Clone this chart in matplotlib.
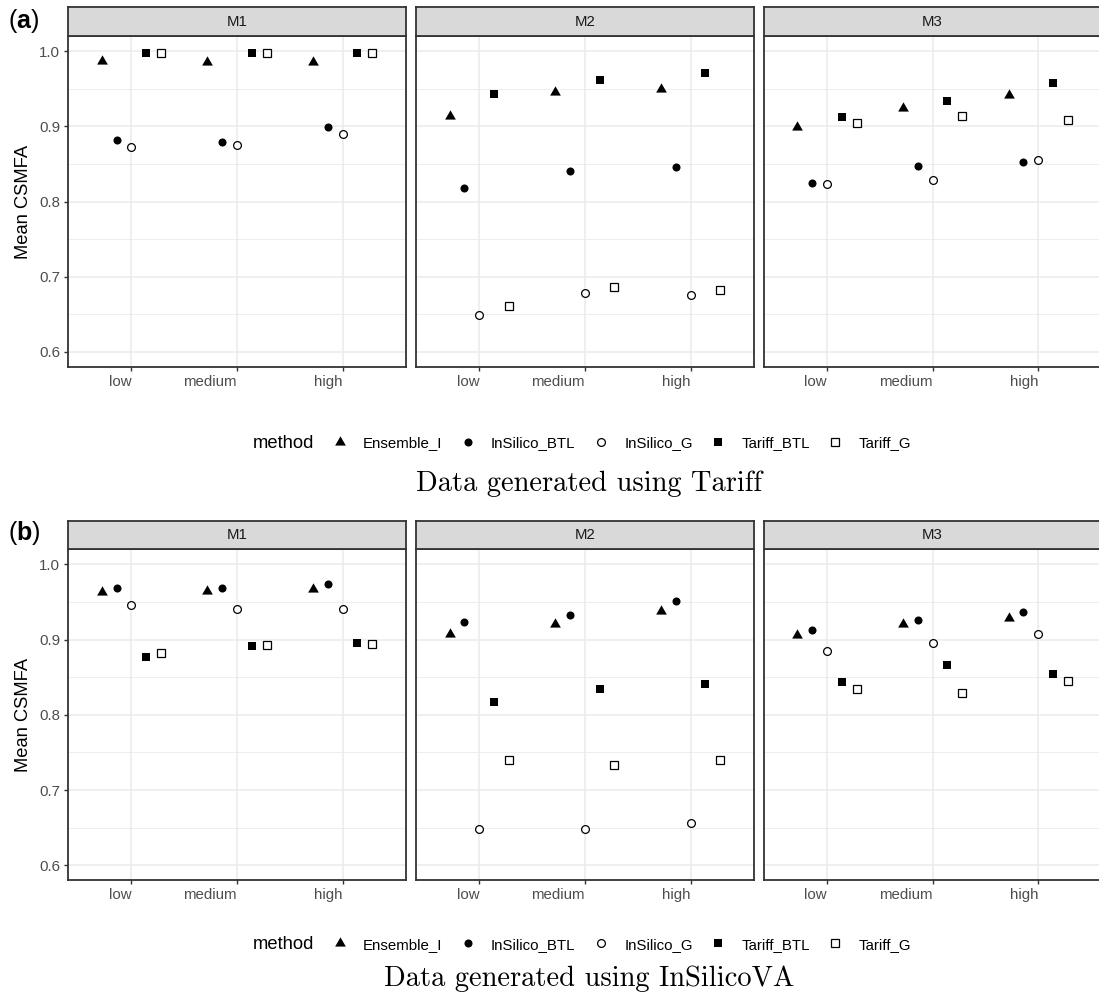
import numpy as np
import matplotlib
matplotlib.use("Agg")
import matplotlib.pyplot as plt
from matplotlib.lines import Line2D

plt.rcParams['font.family'] = ['Liberation Sans', 'DejaVu Sans']
plt.rcParams['mathtext.fontset'] = 'custom'
plt.rcParams['mathtext.rm'] = 'Liberation Sans'
plt.rcParams['mathtext.bf'] = 'Liberation Sans:bold'

# categories
models = ['M1', 'M2', 'M3']
levels = ['low', 'medium', 'high']
methods = ['Ensemble_I', 'InSilico_BTL', 'InSilico_G', 'Tariff_BTL', 'Tariff_G']

# mean CSMFA, rows = M1, M2, M3 ; columns = low, medium, high
# (a) data generated using Tariff
tariff_ensemble = [[0.987, 0.986, 0.986], [0.914, 0.945, 0.950], [0.899, 0.924, 0.942]]
tariff_insilico_btl = [[0.882, 0.879, 0.899], [0.818, 0.840, 0.846], [0.825, 0.847, 0.852]]
tariff_insilico_g = [[0.872, 0.875, 0.890], [0.649, 0.678, 0.676], [0.823, 0.828, 0.855]]
tariff_tariff_btl = [[0.998, 0.998, 0.998], [0.943, 0.962, 0.971], [0.912, 0.933, 0.958]]
tariff_tariff_g = [[0.998, 0.998, 0.998], [0.661, 0.686, 0.682], [0.904, 0.914, 0.909]]

# (b) data generated using InSilicoVA
insilico_ensemble = [[0.963, 0.965, 0.967], [0.907, 0.921, 0.938], [0.906, 0.921, 0.929]]
insilico_insilico_btl = [[0.969, 0.969, 0.974], [0.924, 0.933, 0.951], [0.913, 0.926, 0.937]]
insilico_insilico_g = [[0.946, 0.940, 0.941], [0.648, 0.648, 0.656], [0.885, 0.895, 0.908]]
insilico_tariff_btl = [[0.877, 0.891, 0.895], [0.817, 0.834, 0.841], [0.843, 0.866, 0.854]]
insilico_tariff_g = [[0.882, 0.893, 0.894], [0.740, 0.733, 0.740], [0.834, 0.829, 0.845]]

panels = [
    ('a', 'Data generated using Tariff',
     [tariff_ensemble, tariff_insilico_btl, tariff_insilico_g, tariff_tariff_btl, tariff_tariff_g]),
    ('b', 'Data generated using InSilicoVA',
     [insilico_ensemble, insilico_insilico_btl, insilico_insilico_g, insilico_tariff_btl, insilico_tariff_g]),
]

W, H = 1099, 999
tri = [(0, 0.577), (-0.5, -0.289), (0.5, -0.289)]
styles = [
    dict(marker=tri, ms=8.9, mfc='black', mec='black', mew=0),
    dict(marker='o', ms=5.8, mfc='black', mec='black', mew=0),
    dict(marker='o', ms=5.6, mfc='white', mec='black', mew=0.9),
    dict(marker='s', ms=6.0, mfc='black', mec='black', mew=0),
    dict(marker='s', ms=5.5, mfc='white', mec='black', mew=0.9),
]
offsets = (np.arange(len(methods)) - 2) * 0.14

col_px = [(68, 406), (415.7, 754), (763.7, 1101.5)]
row_px = [dict(strip=(7, 36), plot=(36, 367), legend=443, caption=484, tag=21),
          dict(strip=(520.7, 549.3), plot=(549.3, 880.3), legend=944.7, caption=979, tag=533)]

border = '#333333'


def rect(x0, x1, y0, y1):
    return [x0 / W, 1 - y1 / H, (x1 - x0) / W, (y1 - y0) / H]


fig = plt.figure(figsize=(W / 100, H / 100), dpi=100)

for (tag, caption, data), lay in zip(panels, row_px):
    for j, (model, (x0, x1)) in enumerate(zip(models, col_px)):
        ax = fig.add_axes(rect(x0, x1, *lay['plot']))
        ax.set_xlim(0.4, 3.6)
        ax.set_ylim(0.58, 1.02)
        ax.set_axisbelow(True)
        x = np.arange(1, len(levels) + 1)
        for k, vals in enumerate(data):
            ax.plot(x + offsets[k], vals[j], linestyle='none', zorder=3, **styles[k])
        ax.set_xticks(x)
        ax.set_xticklabels(levels)
        for lab in ax.get_xticklabels():
            lab.set_ha('right')
        ax.set_yticks([0.6, 0.7, 0.8, 0.9, 1.0])
        ax.set_yticks([0.65, 0.75, 0.85, 0.95], minor=True)
        ax.grid(True, which='major', color='#EBEBEB', lw=1.1)
        ax.grid(True, which='minor', axis='y', color='#EBEBEB', lw=0.6)
        ax.tick_params(which='major', length=3, width=1, color=border,
                       labelsize=10.8, labelcolor='#4D4D4D', pad=2.5)
        ax.tick_params(which='minor', length=0)
        if j == 0:
            ax.set_yticklabels(['0.6', '0.7', '0.8', '0.9', '1.0'])
        else:
            ax.tick_params(axis='y', which='both', left=False, labelleft=False)
        for sp in ax.spines.values():
            sp.set_color(border)
            sp.set_linewidth(1.3)

        sax = fig.add_axes(rect(x0, x1, *lay['strip']))
        sax.set_facecolor('#D9D9D9')
        sax.set_xticks([])
        sax.set_yticks([])
        for sp in sax.spines.values():
            sp.set_color(border)
            sp.set_linewidth(1.3)
        sax.text(0.5, 0.5, model, ha='center', va='center', fontsize=10.8,
                 color='#1A1A1A', transform=sax.transAxes)

    p0, p1 = lay['plot']
    fig.text(24 / W, 1 - (p0 + p1) / 2 / H, 'Mean CSMFA', rotation=90,
             ha='center', va='center', fontsize=13.2, color='black')
    fig.text(8 / W, 1 - lay['tag'] / H, '(' + r'$\mathbf{' + tag + '}$' + ')',
             ha='left', va='center', fontsize=18, color='black')

    handles = [Line2D([], [], linestyle='none', **s) for s in styles]
    fig.text(253 / W, 1 - lay['legend'] / H, 'method', ha='left', va='center',
             fontsize=13.2, color='black')
    fig.legend(handles, methods, ncol=5, loc='center left',
               bbox_to_anchor=(332 / W, 1 - lay['legend'] / H), frameon=False,
               fontsize=10.8, handlelength=1.0, handletextpad=1.05,
               columnspacing=1.2, borderpad=0, borderaxespad=0)
    fig.text(589 / W, 1 - lay['caption'] / H, caption, ha='center', va='center',
             family='cmr10', fontsize=20.5, color='black')

fig.savefig('out.png', dpi=100)
